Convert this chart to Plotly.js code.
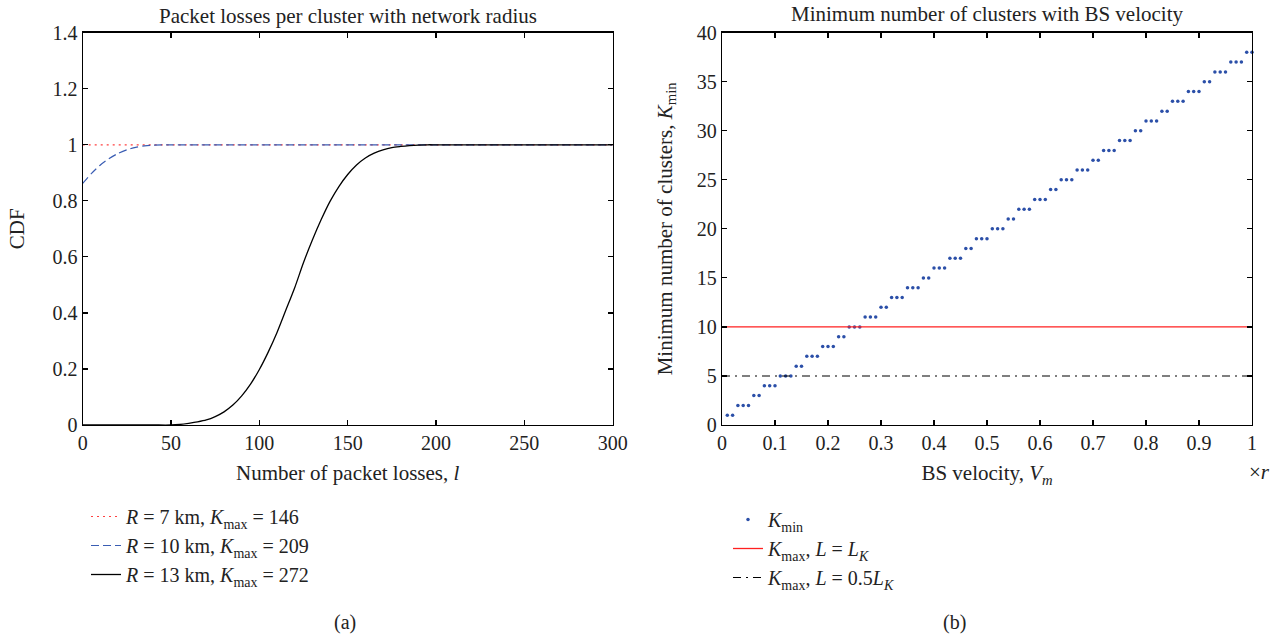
<!DOCTYPE html>
<html>
<head>
<meta charset="utf-8">
<script src="https://cdn.plot.ly/plotly-3.0.1.min.js"></script>
<style>
  html, body { margin: 0; padding: 0; background: #ffffff; }
  #chart { width: 1277px; height: 638px; }
</style>
</head>
<body>
<div id="chart"></div>
<script>
// ---------- Data: panel (a) Packet losses per cluster ----------
const lossR7 = [0, 300];
const cdfR7 = [1, 1];

const lossR10 = [0, 5, 10, 15, 20, 25, 30, 35, 40, 45, 50, 300];
const cdfR10 = [0.862, 0.898, 0.928, 0.951, 0.969, 0.982, 0.991, 0.996, 0.999, 1, 1, 1];

const lossR13 = [0, 10, 20, 30, 40, 50, 55, 60, 65, 70, 75, 80, 85, 90, 95, 100, 105, 110, 115, 120,
                 125, 130, 135, 140, 145, 150, 155, 160, 165, 170, 175, 180, 185, 190, 195, 200, 250, 300];
const cdfR13 = [0, 0, 0, 0, 0, 0, 0.002, 0.006, 0.011, 0.018, 0.030, 0.047, 0.071, 0.104, 0.146, 0.198, 0.26, 0.33, 0.41, 0.49,
                0.58, 0.66, 0.733, 0.798, 0.851, 0.894, 0.928, 0.953, 0.970, 0.982, 0.990, 0.994, 0.997, 0.999, 1, 1, 1, 1];

const xTicksA = [0, 50, 100, 150, 200, 250, 300];
const yTicksA = [0, 0.2, 0.4, 0.6, 0.8, 1, 1.2, 1.4];

// ---------- Data: panel (b) Minimum number of clusters ----------
const velocity = [0.01,0.02,0.03,0.04,0.05,0.06,0.07,0.08,0.09,0.10,
                  0.11,0.12,0.13,0.14,0.15,0.16,0.17,0.18,0.19,0.20,
                  0.21,0.22,0.23,0.24,0.25,0.26,0.27,0.28,0.29,0.30,
                  0.31,0.32,0.33,0.34,0.35,0.36,0.37,0.38,0.39,0.40,
                  0.41,0.42,0.43,0.44,0.45,0.46,0.47,0.48,0.49,0.50,
                  0.51,0.52,0.53,0.54,0.55,0.56,0.57,0.58,0.59,0.60,
                  0.61,0.62,0.63,0.64,0.65,0.66,0.67,0.68,0.69,0.70,
                  0.71,0.72,0.73,0.74,0.75,0.76,0.77,0.78,0.79,0.80,
                  0.81,0.82,0.83,0.84,0.85,0.86,0.87,0.88,0.89,0.90,
                  0.91,0.92,0.93,0.94,0.95,0.96,0.97,0.98,0.99,1.00];
const kMin = [1,1,2,2,2,3,3,4,4,4,
              5,5,5,6,6,7,7,7,8,8,
              8,9,9,10,10,10,11,11,11,12,
              12,13,13,13,14,14,14,15,15,16,
              16,16,17,17,17,18,18,19,19,19,
              20,20,20,21,21,22,22,22,23,23,
              23,24,24,25,25,25,26,26,26,27,
              27,28,28,28,29,29,29,30,30,31,
              31,31,32,32,33,33,33,34,34,34,
              35,35,36,36,36,37,37,37,38,38];
const kMaxLineX = [0, 1];
const kMaxFull = [10, 10];
const kMaxHalf = [5, 5];

const xTicksB = [0, 0.1, 0.2, 0.3, 0.4, 0.5, 0.6, 0.7, 0.8, 0.9, 1];
const yTicksB = [0, 5, 10, 15, 20, 25, 30, 35, 40];

// ---------- Styling ----------
const W = 1277, H = 638;
const FONT = "'Liberation Serif', 'DejaVu Serif', serif";
const TXT = '#222222';
const FS = 20;   // tick labels
const FT = 21;   // titles
const FL = 20;   // legend
const px = v => v / W;
const py = v => 1 - v / H;

const traces = [
  { x: lossR7, y: cdfR7, type: 'scatter', mode: 'lines', xaxis: 'x', yaxis: 'y', legend: 'legend',
    name: '<i>R</i> = 7 km, <i>K</i><sub>max</sub> = 146',
    line: { color: '#ff4040', width: 1.2, dash: '2px,4px' } },
  { x: lossR10, y: cdfR10, type: 'scatter', mode: 'lines', xaxis: 'x', yaxis: 'y', legend: 'legend',
    name: '<i>R</i> = 10 km, <i>K</i><sub>max</sub> = 209',
    line: { color: '#3a5db3', width: 1.2, dash: '8px,4px', shape: 'spline', smoothing: 0.8 } },
  { x: lossR13, y: cdfR13, type: 'scatter', mode: 'lines', xaxis: 'x', yaxis: 'y', legend: 'legend',
    name: '<i>R</i> = 13 km, <i>K</i><sub>max</sub> = 272',
    line: { color: '#000000', width: 1.3, shape: 'spline', smoothing: 0.8 } },

  { x: velocity, y: kMin, type: 'scatter', mode: 'markers', xaxis: 'x2', yaxis: 'y2', legend: 'legend2',
    name: '<i>K</i><sub>min</sub>',
    marker: { color: '#2b4fa8', size: 3.5 }, cliponaxis: false },
  { x: kMaxLineX, y: kMaxFull, type: 'scatter', mode: 'lines', xaxis: 'x2', yaxis: 'y2', legend: 'legend2',
    name: '<i>K</i><sub>max</sub>, <i>L</i> = <i>L</i><sub><i>K</i></sub>',
    line: { color: '#ff2020', width: 1.3 } },
  { x: kMaxLineX, y: kMaxHalf, type: 'scatter', mode: 'lines', xaxis: 'x2', yaxis: 'y2', legend: 'legend2',
    name: '<i>K</i><sub>max</sub>, <i>L</i> = 0.5<i>L</i><sub><i>K</i></sub>',
    line: { color: '#000000', width: 1.1, dash: '8px,5px,2px,5px' } }
];

const axisCommon = {
  showline: true, mirror: 'ticks', linecolor: '#000000', linewidth: 1.2,
  ticks: 'inside', ticklen: 5, tickwidth: 1.2, tickcolor: '#000000',
  showgrid: false, zeroline: false, tickmode: 'array',
  tickfont: { family: FONT, size: FS, color: TXT }
};

const layout = {
  width: W, height: H,
  paper_bgcolor: '#ffffff', plot_bgcolor: '#ffffff',
  margin: { l: 0, r: 0, t: 0, b: 0 },
  font: { family: FONT, size: FT, color: TXT },
  xaxis: Object.assign({}, axisCommon, {
    domain: [px(82.7), px(612.7)], range: [0, 300], tickvals: xTicksA, anchor: 'y',
    title: { text: 'Number of packet losses, <i>l</i>', font: { family: FONT, size: FT, color: TXT }, standoff: 12 }
  }),
  yaxis: Object.assign({}, axisCommon, {
    domain: [1 - 425 / H, 1 - 32.7 / H], range: [0, 1.4], tickvals: yTicksA, anchor: 'x',
    title: { text: 'CDF', font: { family: FONT, size: FT, color: TXT }, standoff: 22 }
  }),
  xaxis2: Object.assign({}, axisCommon, {
    domain: [px(722), px(1252)], range: [0, 1], tickvals: xTicksB, anchor: 'y2',
    title: { text: 'BS velocity, <i>V</i><sub><i>m</i></sub>', font: { family: FONT, size: FT, color: TXT }, standoff: 12 }
  }),
  yaxis2: Object.assign({}, axisCommon, {
    domain: [1 - 425 / H, 1 - 32.7 / H], range: [0, 40], tickvals: yTicksB, anchor: 'x2',
    title: { text: 'Minimum number of clusters, <i>K</i><sub>min</sub>', font: { family: FONT, size: FT, color: TXT }, standoff: 18 }
  }),
  legend: {
    x: px(86), y: py(497), xanchor: 'left', yanchor: 'top',
    bgcolor: 'rgba(0,0,0,0)', borderwidth: 0,
    font: { family: FONT, size: FL, color: TXT }, tracegroupgap: 0
  },
  legend2: {
    x: px(728), y: py(500), xanchor: 'left', yanchor: 'top',
    bgcolor: 'rgba(0,0,0,0)', borderwidth: 0,
    font: { family: FONT, size: FL, color: TXT }, tracegroupgap: 0
  },
  showlegend: true,
  annotations: [
    { text: 'Packet losses per cluster with network radius', xref: 'paper', yref: 'paper',
      x: px(347.7), y: py(16), xanchor: 'center', yanchor: 'middle', showarrow: false,
      font: { family: FONT, size: FT, color: TXT } },
    { text: 'Minimum number of clusters with BS velocity', xref: 'paper', yref: 'paper',
      x: px(987), y: py(14), xanchor: 'center', yanchor: 'middle', showarrow: false,
      font: { family: FONT, size: FT, color: TXT } },
    { text: '×<i>r</i>', xref: 'paper', yref: 'paper',
      x: px(1259), y: py(472), xanchor: 'center', yanchor: 'middle', showarrow: false,
      font: { family: FONT, size: FT, color: TXT } },
    { text: '(a)', xref: 'paper', yref: 'paper',
      x: px(345), y: py(622), xanchor: 'center', yanchor: 'middle', showarrow: false,
      font: { family: FONT, size: FS, color: TXT } },
    { text: '(b)', xref: 'paper', yref: 'paper',
      x: px(954), y: py(622), xanchor: 'center', yanchor: 'middle', showarrow: false,
      font: { family: FONT, size: FS, color: TXT } }
  ]
};

Plotly.newPlot('chart', traces, layout, { displayModeBar: false, staticPlot: true });
</script>
</body>
</html>
